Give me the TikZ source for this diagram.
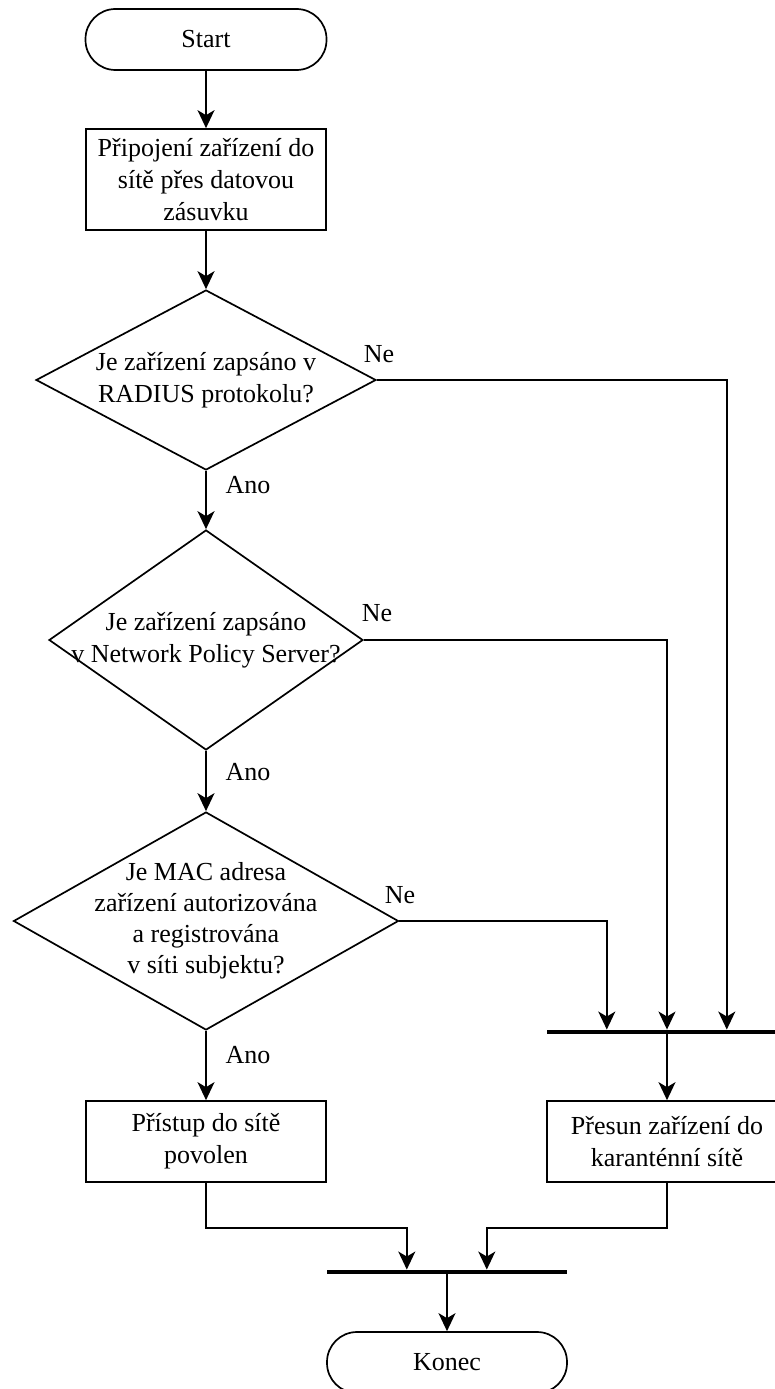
\documentclass[tikz,border=0pt]{standalone}
\usepackage{fontspec}
\setmainfont{Liberation Serif}
\usetikzlibrary{shapes.geometric,arrows.meta,calc}

\begin{document}
\begin{tikzpicture}[x=1pt,y=1pt,
  every node/.style={font=\fontsize{26}{32}\selectfont, text=black},
  line/.style={line width=1.7pt, draw=black},
  arr/.style={line, -{Stealth[length=18pt,width=17pt,inset=5pt]}},
  terminal/.style={line, rectangle, rounded corners=30pt, inner sep=0pt, align=center},
  process/.style={line, rectangle, inner sep=0pt, align=center},
  decision/.style={line, diamond, inner sep=0pt},
  syncbar/.style={rectangle, fill=black, inner sep=0pt, minimum width=240pt, minimum height=4.5pt},
  tag/.style={inner sep=0pt}
]
\useasboundingbox (0,0) rectangle (775,-1389);
\clip (0,0) rectangle (775,-1389);

% terminals and steps
\node[terminal, minimum width=241pt, minimum height=61pt] (start) at (206,-39.5) {Start};
\node[process, minimum width=240pt, minimum height=101pt] (connect) at (206,-179.5)
  {Připojení zařízení do\\sítě přes datovou\\zásuvku};

\node[decision, minimum width=340pt, minimum height=180pt,
  label={[align=center]center:Je zařízení zapsáno v\\RADIUS protokolu?}] (radius) at (206,-380) {};
\node[decision, minimum width=314pt, minimum height=220pt,
  label={[align=center]center:Je zařízení zapsáno\\v Network Policy Server?}] (nps) at (206,-640) {};
\node[decision, minimum width=385pt, minimum height=218pt,
  label={[align=center, font=\fontsize{26}{31}\selectfont]center:Je MAC adresa\\zařízení autorizována\\a registrována\\v síti subjektu?}] (mac) at (206,-921) {};

\node[syncbar] (joinq) at (667,-1032) {};
\node[process, minimum width=240pt, minimum height=81pt] (quarantine) at (667,-1141.5)
  {Přesun zařízení do\\karanténní sítě};
\node[process, minimum width=240pt, minimum height=81pt] (allow) at (206,-1141.5)
  {Přístup do sítě\\povolen};

\node[syncbar] (joinend) at (447,-1272) {};
\node[terminal, minimum width=240pt, minimum height=61pt] (stop) at (447,-1362.5) {Konec};

% entry points on the bars
\coordinate (q1) at ([xshift=60pt]joinq.north west);
\coordinate (q3) at ([xshift=180pt]joinq.north west);
\coordinate (e1) at ([xshift=80pt]joinend.north west);
\coordinate (e2) at ([xshift=160pt]joinend.north west);

% main flow
\draw[arr] (start) -- (connect);
\draw[arr] (connect) -- (radius.north);
\draw[arr] (radius.south) -- (nps.north);
\draw[arr] (nps.south) -- (mac.north);
\draw[arr] (mac.south) -- (allow.north);

% rejection branches
\draw[arr] (radius.east) -| (q3);
\draw[arr] (nps.east) -| (joinq.north);
\draw[arr] (mac.east) -| (q1);
\draw[arr] (joinq.south) -- (quarantine.north);

% merge to the end
\draw[arr] (allow.south) -- ++(0,-45) -| (e1);
\draw[arr] (quarantine.south) -- ++(0,-45) -| (e2);
\draw[arr] (joinend.south) -- (stop.north);

% branch labels
\node[tag] (ne1) at (379,-354) {Ne};
\node[tag] (ne2) at (377,-613) {Ne};
\node[tag] (ne3) at (400,-895) {Ne};
\node[tag] (ano1) at (248,-485) {Ano};
\node[tag] (ano2) at (248,-772) {Ano};
\node[tag] (ano3) at (248,-1055) {Ano};
\end{tikzpicture}
\end{document}
